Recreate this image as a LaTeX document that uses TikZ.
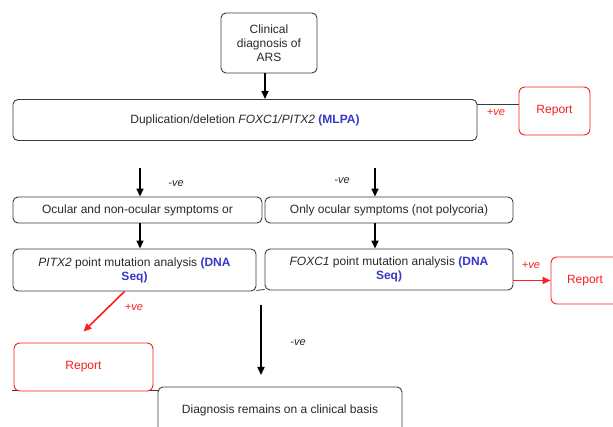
\documentclass[tikz,border=0pt]{standalone}
\usepackage{fontspec}
\setmainfont{Liberation Sans}
\usetikzlibrary{arrows.meta,backgrounds}
\definecolor{boxgray}{RGB}{60,60,60}
\definecolor{txtgray}{RGB}{40,40,40}
\definecolor{myblue}{RGB}{55,55,200}
\definecolor{myred}{RGB}{250,30,30}
\tikzset{
  box/.style={draw=boxgray, line width=0.9pt, rounded corners=5pt, rectangle, align=center,
    text=txtgray, font=\fontsize{12}{14}\selectfont, inner sep=2pt},
  redbox/.style={draw=myred, line width=0.9pt, rounded corners=6pt, rectangle, align=center,
    text=myred, font=\fontsize{12}{14}\selectfont, fill=white},
  blkarrow/.style={line width=1.6pt, -{Triangle[length=8pt,width=7pt]}},
  redarrow/.style={myred, line width=1.6pt, -{Triangle[length=8pt,width=7pt]}},
  thinline/.style={boxgray, line width=0.8pt},
  neglbl/.style={font=\fontsize{11}{12}\selectfont\itshape, text=txtgray},
  poslbl/.style={font=\fontsize{11}{12}\selectfont\itshape, text=myred}
}
\newcommand{\bl}[1]{\textcolor{myblue}{\textbf{#1}}}
\begin{document}
\begin{tikzpicture}[x=1pt,y=-1pt]
\useasboundingbox (0,0) rectangle (613,427);
% boxes
\node[box, minimum width=96pt, minimum height=60pt] (clin) at (269,43) {Clinical\\diagnosis of\\ARS};
\node[box, minimum width=464pt, minimum height=41pt] (dup) at (245,120) {Duplication/deletion \textit{FOXC1/PITX2} \bl{(MLPA)}};
\node[redbox, minimum width=71pt, minimum height=48pt] (rep1) at (554.5,111) {Report};
\node[box, minimum width=249pt, minimum height=26pt] (ocu) at (137.5,210) {Ocular and non-ocular symptoms or};
\node[box, minimum width=248pt, minimum height=26pt] (only) at (389,210) {Only ocular symptoms (not polycoria)};
\node[box, minimum width=243pt, minimum height=42pt] (pitx) at (134.5,270) {\textit{PITX2} point mutation analysis \bl{(DNA}\\\bl{Seq)}};
\node[box, minimum width=248pt, minimum height=41pt] (fox) at (389,269.5) {\textit{FOXC1} point mutation analysis \bl{(DNA}\\\bl{Seq)}};
\node[redbox, minimum width=68pt, minimum height=47pt, text width=60pt, align=left] (rep2) at (585,280.5) {\hspace*{12pt}Report};
\node[redbox, minimum width=139pt, minimum height=48pt] (rep3) at (83.5,367) {Report};
\node[box, minimum width=244pt, minimum height=46pt] (diag) at (280,410) {Diagnosis remains on a clinical basis};
% coordinates
\coordinate (s1) at (140,168);
\coordinate (s2) at (375,168);
\coordinate (s3) at (261,305);
\coordinate (e3) at (261,375);
% arrows
\draw[blkarrow] (265,73) -- (265,99);
\draw[blkarrow] (s1) -- (s1 |- ocu.north);
\draw[blkarrow] (s2) -- (s2 |- only.north);
\draw[blkarrow] (ocu.south -| s1) -- (s1 |- pitx.north);
\draw[blkarrow] (only.south -| s2) -- (s2 |- fox.north);
\draw[blkarrow] (s3) -- (e3);
\draw[redarrow] ([yshift=-11pt]fox.east) -- ([yshift=-11pt]fox.east -| rep2.west);
\draw[redarrow] ([xshift=-10pt]pitx.south) -- ([yshift=11pt]rep3.north);
% thin lines
\draw[thinline] ([yshift=16pt]dup.east) -- ([yshift=16pt]dup.east -| rep1.west);
\draw[thinline] ([yshift=1pt]pitx.south east) -- ([yshift=1pt]fox.south west);
\begin{pgfonlayer}{background}
\draw[thinline] ([xshift=-2pt,yshift=1pt]rep3.south west) -- ([yshift=1pt]rep3.south west -| diag.west);
\end{pgfonlayer}
% labels
\node[poslbl] (p1) at (496,112) {+ve};
\node[poslbl] (p2) at (531,265) {+ve};
\node[poslbl] (p3) at (134,307) {+ve};
\node[neglbl] (n1) at (176,184) {-ve};
\node[neglbl] (n2) at (342,181) {-ve};
\node[neglbl] (n3) at (298,343) {-ve};
\end{tikzpicture}
\end{document}
